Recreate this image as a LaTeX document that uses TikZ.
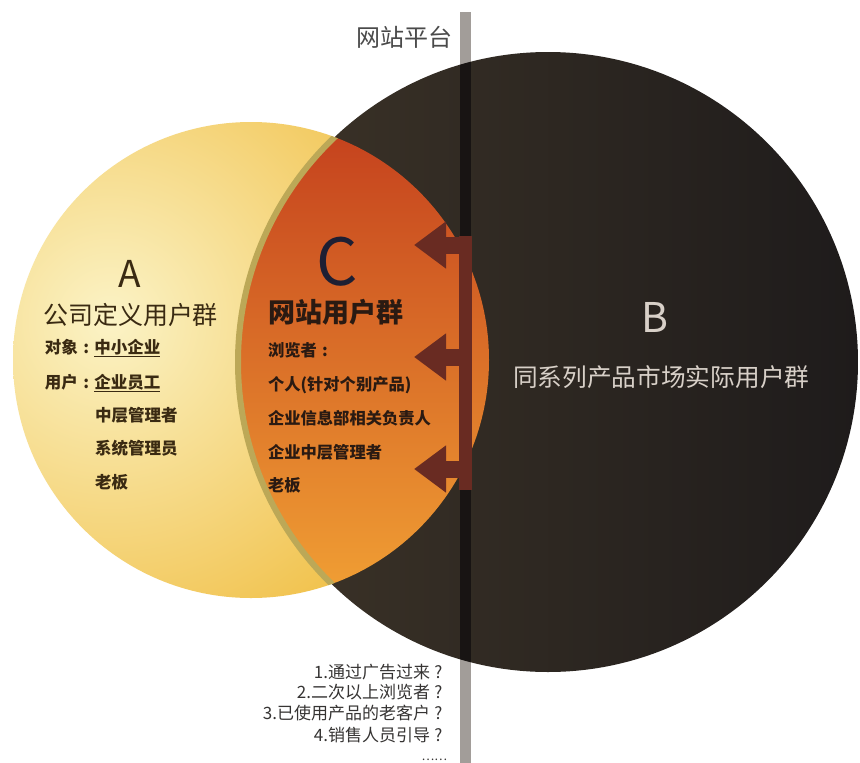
\documentclass[tikz,border=0pt]{standalone}
\usepackage{fontspec}
\setmainfont{Noto Sans CJK SC}
\usetikzlibrary{arrows.meta}
\definecolor{aLight}{HTML}{FBF3C6}
\definecolor{aGold}{HTML}{EFB834}
\definecolor{cTop}{HTML}{C4401D}
\definecolor{cBot}{HTML}{F1A034}
\definecolor{bLeft}{HTML}{3D3428}
\definecolor{bRight}{HTML}{1E1B1B}
\definecolor{oliveBand}{HTML}{BCA857}
\definecolor{barGray}{HTML}{A29D99}
\definecolor{barDark}{HTML}{181413}
\definecolor{arrowCol}{HTML}{692B22}
\definecolor{aText}{HTML}{3A2A12}
\definecolor{cText}{HTML}{2A1A12}
\definecolor{cLetter}{HTML}{1E1F33}
\definecolor{bText}{HTML}{D8D0C8}
\definecolor{gText}{HTML}{4A4A4A}
\definecolor{qText}{HTML}{363433}
\newcommand{\ccolon}{\makebox[1em][c]{:}}
\newcommand{\qmark}{\makebox[1em][c]{?}}
\begin{document}
\begin{tikzpicture}[x=1pt,y=-1pt,
  lbl/.style={inner sep=0pt, outer sep=0pt},
  aitem/.style={lbl, anchor=west, text=aText, font=\fontsize{16.5}{18}\selectfont\bfseries},
  citem/.style={lbl, anchor=west, text=cText, font=\fontsize{16.3}{18}\selectfont\bfseries},
  qitem/.style={lbl, anchor=east, text=qText, font=\fontsize{17}{19}\selectfont},
  leftarrow/.style={arrowCol, line width=17, -{Triangle[width=45pt,length=32pt]}}
]
\useasboundingbox (0,0) rectangle (860,763);
\fill[white] (0,0) rectangle (860,763);
% circle A
\begin{scope}
  \clip (251,360) circle[radius=238];
  \shade[inner color=aLight, outer color=aGold] (110,320) circle[radius=420];
\end{scope}
% circle B
\shade[left color=bLeft, right color=bRight] (548,362) circle[radius=310];
% intersection C
\begin{scope}
  \clip (251,360) circle[radius=238];
  \clip (548,362) circle[radius=310];
  \shade[top color=cTop, bottom color=cBot] (230,120) rectangle (500,600);
\end{scope}
\begin{scope}
  \clip (251,360) circle[radius=238];
  \draw[oliveBand, line width=6] (548,362) circle[radius=310];
\end{scope}
% platform bar
\fill[barGray] (460,12) rectangle (471,763);
\begin{scope}
  \clip (548,362) circle[radius=310];
  \fill[barDark] (460,0) rectangle (471,763);
\end{scope}
% arrows
\coordinate (stemTop) at (465.5,236);
\coordinate (stemBot) at (465.5,490);
\fill[arrowCol] (459,236) rectangle (472,490);
\coordinate (s1) at (463,245); \coordinate (t1) at (414,245);
\coordinate (s2) at (463,357); \coordinate (t2) at (414,357);
\coordinate (s3) at (463,469); \coordinate (t3) at (414,469);
\draw[leftarrow] (s1) -- (t1);
\draw[leftarrow] (s2) -- (t2);
\draw[leftarrow] (s3) -- (t3);
% texts
\node[lbl, text=gText, font=\fontsize{24}{26}\selectfont] (platform) at (404,37) {网站平台};
\node[lbl, anchor=base, text=aText, font=\fontsize{37}{40}\selectfont] (letterA) at (130,287) {A};
\node[lbl, anchor=west, text=aText, font=\fontsize{25}{27}\selectfont] (titleA) at (43,315) {公司定义用户群};
\node[aitem] (a1) at (45,348) {对象\ccolon\underline{中小企业}};
\node[aitem] (a2) at (45,383) {用户\ccolon\underline{企业员工}};
\node[aitem] (a3) at (95,415) {中层管理者};
\node[aitem] (a4) at (95,448) {系统管理员};
\node[aitem] (a5) at (95,482) {老板};
\node[lbl, anchor=base, text=cLetter, font=\fontsize{65}{68}\selectfont] (letterC) at (337,285) {C};
\node[lbl, anchor=west, text=cText, font=\fontsize{27}{29}\selectfont\bfseries] (titleC) at (268,312) {网站用户群};
\node[citem] (c1) at (268,350) {浏览者\ccolon};
\node[citem] (c2) at (268,385) {个人(针对个别产品)};
\node[citem] (c3) at (268,418) {企业信息部相关负责人};
\node[citem] (c4) at (268,452) {企业中层管理者};
\node[citem] (c5) at (268,485) {老板};
\node[lbl, anchor=base, text=bText, font=\fontsize{41}{44}\selectfont] (letterB) at (655,332) {B};
\node[lbl, anchor=west, text=bText, font=\fontsize{24.7}{27}\selectfont] (titleB) at (513,377) {同系列产品市场实际用户群};
\node[qitem] (q1) at (447,672) {1.通过广告过来\qmark};
\node[qitem] (q2) at (447,692) {2.二次以上浏览者\qmark};
\node[qitem] (q3) at (447,713) {3.已使用产品的老客户\qmark};
\node[qitem] (q4) at (447,735) {4.销售人员引导\qmark};
\node[qitem, font=\fontsize{12}{12}\selectfont] (qdots) at (447,760) {……};
\end{tikzpicture}
\end{document}
